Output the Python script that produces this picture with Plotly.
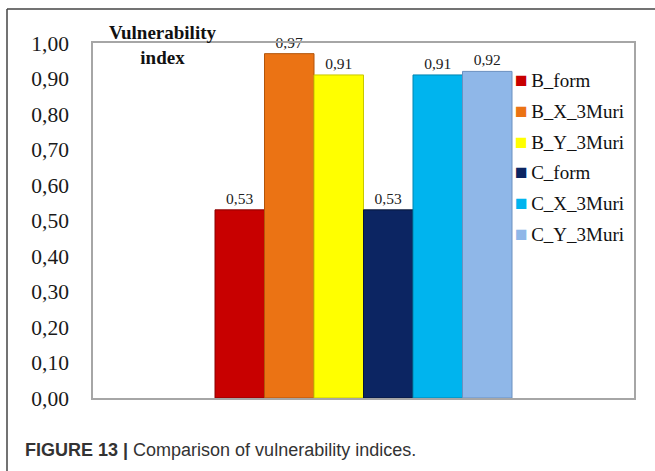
import plotly.graph_objects as go

# Vulnerability index per building / method
series_names = ["B_form", "B_X_3Muri", "B_Y_3Muri", "C_form", "C_X_3Muri", "C_Y_3Muri"]
series_values = [0.53, 0.97, 0.91, 0.53, 0.91, 0.92]
series_colors = ["#C80000", "#EB7314", "#FFFF00", "#0C2562", "#00B4EE", "#8FB7E8"]
edge_colors = ["#8A0000", "#B3550A", "#C8C800", "#061638", "#0085B0", "#6A90C0"]
category = ["Vulnerability index"]
y_ticks = [0.0, 0.1, 0.2, 0.3, 0.4, 0.5, 0.6, 0.7, 0.8, 0.9, 1.0]

W, H = 655, 471
L, R, T, B = 93, 634, 43, 398  # plot-area box in pixels
pw, ph = R - L, B - T


def px_x(x):
    return (x - L) / pw


def px_y(y):
    return (B - y) / ph


serif = "Liberation Serif"

fig = go.Figure()
for name, val, col, edge in zip(series_names, series_values, series_colors, edge_colors):
    fig.add_trace(go.Bar(
        name=name,
        x=category,
        y=[val],
        marker=dict(color=col, line=dict(color=edge, width=1)),
        texttemplate="%{y:.2f}",
        textposition="outside",
        textfont=dict(family=serif, size=15.5, color="#222222"),
        cliponaxis=False,
        showlegend=False,
    ))

# legend entries: small coloured square followed by the series name
for name, col in zip(series_names, series_colors):
    fig.add_trace(go.Scatter(
        x=[None], y=[None], mode="markers",
        marker=dict(size=0, color="rgba(0,0,0,0)", opacity=0),
        name=(f'<span style="color:{col};font-size:21px">■</span>'
              f'<span style="font-size:14px"> </span>'
              f'<span style="font-family:\'Liberation Serif\'">{name}</span>'),
        legendgroup=name,
        showlegend=True,
    ))

fig.update_layout(
    width=W, height=H,
    margin=dict(l=L, r=W - R, t=T, b=H - B, autoexpand=False),
    paper_bgcolor="white",
    plot_bgcolor="white",
    barmode="group",
    bargap=0.451,
    bargroupgap=0,
    separators=", ",
    showlegend=True,
    legend=dict(
        x=px_x(475), y=px_y(61), xanchor="left", yanchor="top",
        font=dict(family=serif, size=19, color="#111111"),
        bgcolor="rgba(0,0,0,0)",
        itemwidth=30,
        tracegroupgap=3,
    ),
    xaxis=dict(
        showticklabels=False, ticks="", showgrid=False, zeroline=False,
        showline=True, linecolor="#A6A6A6", linewidth=1.5, mirror=True,
    ),
    yaxis=dict(
        range=[0, 1], tickvals=y_ticks, tickformat=".2f",
        tickfont=dict(family=serif, size=21.5, color="#1a1a1a"),
        ticks="", ticklabelstandoff=18,
        showgrid=False, zeroline=False,
        showline=True, linecolor="#A6A6A6", linewidth=1.5, mirror=True,
    ),
    font=dict(family=serif),
)

# axis title placed at the upper left of the plot area
fig.add_annotation(
    text="<b>Vulnerability<br>index</b>",
    xref="paper", yref="paper",
    x=px_x(162), y=px_y(45),
    xanchor="center", yanchor="middle",
    showarrow=False,
    font=dict(family=serif, size=19, color="#111111"),
)

# figure caption
fig.add_annotation(
    text="<b>FIGURE 13 |</b> Comparison of vulnerability indices.",
    xref="paper", yref="paper",
    x=px_x(23), y=px_y(450),
    xanchor="left", yanchor="middle",
    showarrow=False,
    font=dict(family="Liberation Sans", size=18, color="#333333"),
)

# outer frame (top and left edges)
fig.add_shape(type="line", xref="paper", yref="paper",
              x0=px_x(7), y0=px_y(9), x1=px_x(W + 5), y1=px_y(9),
              line=dict(color="#444444", width=1.5))
fig.add_shape(type="line", xref="paper", yref="paper",
              x0=px_x(7), y0=px_y(9), x1=px_x(7), y1=px_y(H + 5),
              line=dict(color="#444444", width=1.5))

fig.write_html("out.html")
